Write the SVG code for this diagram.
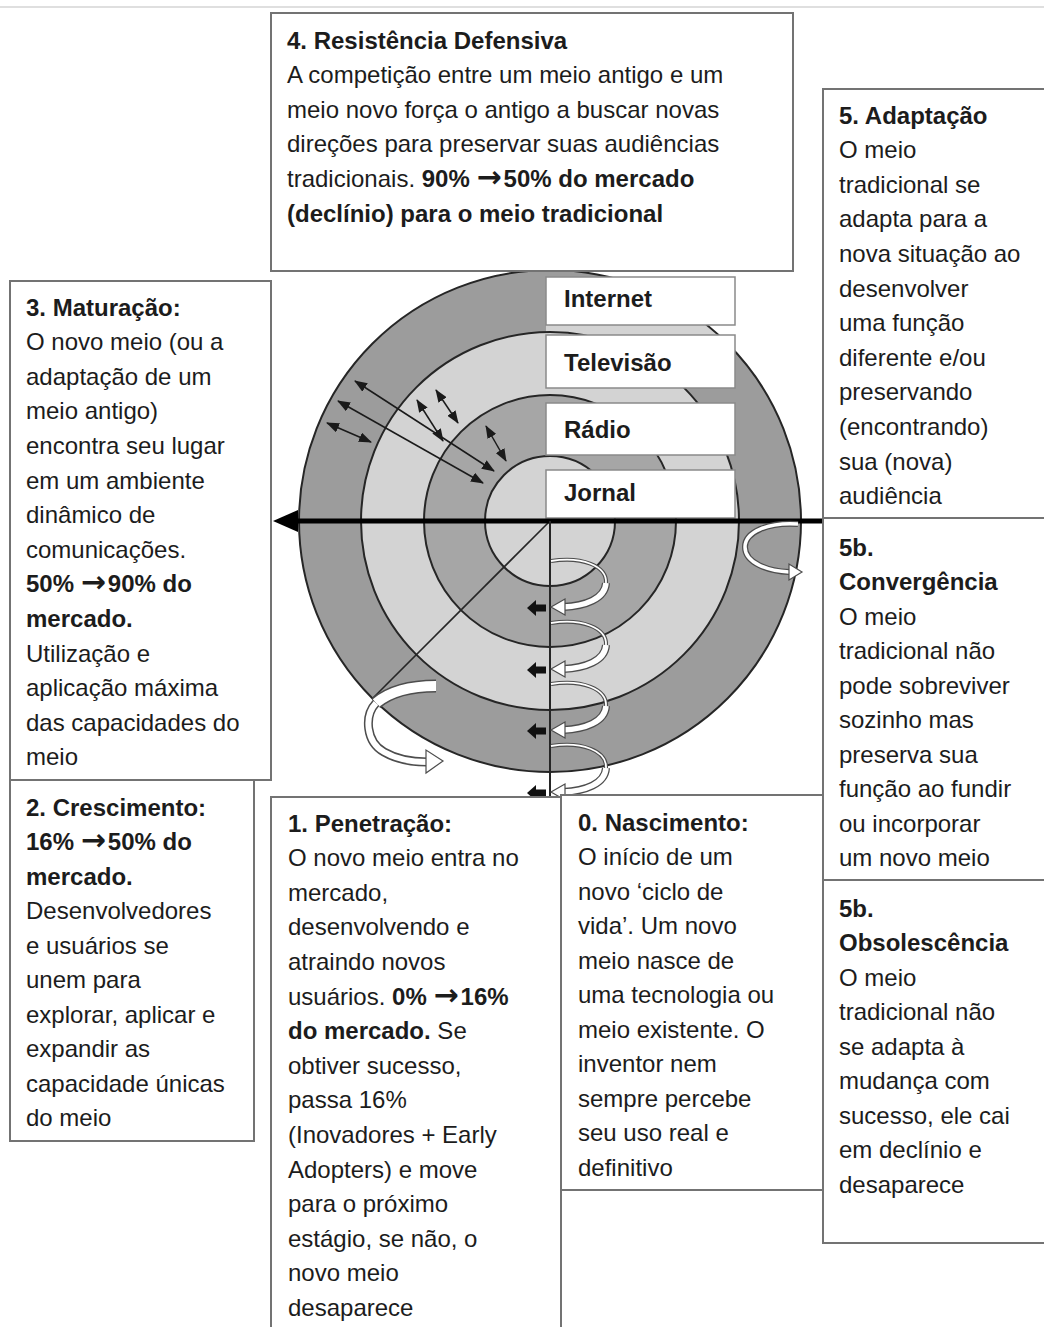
<svg xmlns="http://www.w3.org/2000/svg" width="1044" height="1327" viewBox="0 0 1044 1327">
<style>
  .box{fill:#fff;stroke:#737373;stroke-width:2}
  .tag{fill:#fff;stroke:#8a8a8a;stroke-width:1.5}
  text{font-family:"Liberation Sans",Arial,sans-serif;font-size:24px;fill:#1c1c1c}
  .b{font-weight:700}
  .arr{font-family:"DejaVu Sans",sans-serif;font-weight:700;font-size:30px}
  .ring{stroke:#262626;stroke-width:2}
  .dk{fill:#9c9c9c}
  .md{fill:#a6a6a6}
  .lt{fill:#d3d3d3}
  .dbl{fill:none;stroke:#1a1a1a;stroke-width:1.5;marker-start:url(#ah);marker-end:url(#ah)}
  .rib-o{fill:none;stroke:#4d4d4d}
  .rib-i{fill:none;stroke:#fff}
  .head{fill:#fff;stroke:#4d4d4d;stroke-width:1.2}
</style>
<defs>
  <marker id="ah" viewBox="0 0 13 10" refX="12" refY="5" markerWidth="13" markerHeight="10" markerUnits="userSpaceOnUse" orient="auto-start-reverse">
    <path d="M0,0 L13,5 L0,10 Z" fill="#1a1a1a"/>
  </marker>
  <!-- one turn of the coil running down the vertical axis -->
  <g id="coil">
    <path class="rib-o" stroke-width="4" d="M551,561 C582,556 607,566 606,583"/>
    <path class="rib-i" stroke-width="1.8" d="M551,561 C582,556 607,566 606,583"/>
    <path class="rib-o" stroke-width="8" d="M606,583 C605,599 585,606 563,607"/>
    <path class="rib-i" stroke-width="5.5" d="M606,583 C605,599 585,606 563,607"/>
    <polygon class="head" points="551,607 565,599 565,615"/>
    <polygon points="527,608 536,600 536,604.5 546,604.5 546,611.5 536,611.5 536,616" fill="#111"/>
  </g>
</defs>

<rect width="1044" height="1327" fill="#fff"/>
<line x1="0" y1="7" x2="1044" y2="7" stroke="#d4d4d4" stroke-width="1.5"/>

<!-- concentric media rings -->
<g id="rings">
  <circle class="ring dk" cx="550" cy="521" r="251"/>
  <polygon class="lt" points="546,325 705,325 717,335 546,335"/>
  <circle class="ring lt" cx="550" cy="521" r="189"/>
  <circle class="ring md" cx="550" cy="521" r="126"/>
  <circle class="ring lt" cx="550" cy="521" r="65"/>
  <line x1="550" y1="521" x2="373" y2="698" stroke="#262626" stroke-width="1.6"/>
</g>

<!-- ring labels -->
<g id="label-internet">
  <rect class="tag" x="546" y="277" width="189" height="48"/>
  <text class="b" x="564" y="307">Internet</text>
</g>
<g id="label-televisao">
  <rect class="tag" x="546" y="335" width="189" height="53"/>
  <text class="b" x="564" y="371">Televisão</text>
</g>
<g id="label-radio">
  <rect class="tag" x="546" y="403" width="189" height="52"/>
  <text class="b" x="564" y="438">Rádio</text>
</g>
<g id="label-jornal">
  <rect class="tag" x="546" y="470" width="189" height="48"/>
  <text class="b" x="564" y="501">Jornal</text>
</g>

<!-- connectors -->
<g id="connectors">
  <line class="dbl" x1="327" y1="423" x2="371" y2="442"/>
  <line class="dbl" x1="355" y1="381" x2="494" y2="471"/>
  <line class="dbl" x1="338" y1="401" x2="483" y2="483"/>
  <line class="dbl" x1="436" y1="390" x2="458" y2="423"/>
  <line class="dbl" x1="417" y1="400" x2="443" y2="441"/>
  <line class="dbl" x1="486" y1="426" x2="506" y2="461"/>

  <!-- time axis -->
  <line x1="295" y1="521" x2="822" y2="521" stroke="#000" stroke-width="5"/>
  <polygon points="273,521 298,510 298,532" fill="#000"/>
  <line x1="550" y1="521" x2="550" y2="797" stroke="#262626" stroke-width="2"/>

  <!-- coil down the axis -->
  <use href="#coil"/>
  <use href="#coil" y="62"/>
  <use href="#coil" y="123"/>
  <use href="#coil" y="185"/>

  <!-- loop at the outer ring, right -->
  <path class="rib-o" stroke-width="6" d="M798,524 C768,522 745,532 745,547 C745,563 768,571 789,572"/>
  <path class="rib-i" stroke-width="3.5" d="M798,524 C768,522 745,532 745,547 C745,563 768,571 789,572"/>
  <polygon class="head" points="802,572 789,564 789,580"/>

  <!-- loop leaving the circle, lower left -->
  <path class="rib-o" stroke-width="13" d="M436,686 C408,686 388,693 376,703"/>
  <path class="rib-i" stroke-width="10" d="M436,686 C408,686 388,693 376,703"/>
  <path class="rib-o" stroke-width="9" d="M376,703 C364,716 366,742 384,752 C398,760 412,762 427,762"/>
  <path class="rib-i" stroke-width="6" d="M376,703 C364,716 366,742 384,752 C398,760 412,762 427,762"/>
  <polygon class="head" points="443,761 426,750 426,773"/>
</g>

<!-- stage boxes -->
<g id="stage-4">
  <rect class="box" x="271" y="13" width="522" height="258"/>
  <text y="48.5">
    <tspan class="b" x="287">4. Resistência Defensiva</tspan>
    <tspan x="287" dy="34.6">A competição entre um meio antigo e um</tspan>
    <tspan x="287" dy="34.6">meio novo força o antigo a buscar novas</tspan>
    <tspan x="287" dy="34.6">direções para preservar suas audiências</tspan>
    <tspan x="287" dy="34.6">tradicionais. <tspan class="b">90% <tspan class="arr">→</tspan><tspan dx="2">50% do mercado</tspan></tspan></tspan>
    <tspan class="b" x="287" dy="34.6">(declínio) para o meio tradicional</tspan>
  </text>
</g>

<g id="stage-5">
  <rect class="box" x="823" y="89" width="230" height="429"/>
  <text y="123.5">
    <tspan class="b" x="839">5. Adaptação</tspan>
    <tspan x="839" dy="34.6">O meio</tspan>
    <tspan x="839" dy="34.6">tradicional se</tspan>
    <tspan x="839" dy="34.6">adapta para a</tspan>
    <tspan x="839" dy="34.6">nova situação ao</tspan>
    <tspan x="839" dy="34.6">desenvolver</tspan>
    <tspan x="839" dy="34.6">uma função</tspan>
    <tspan x="839" dy="34.6">diferente e/ou</tspan>
    <tspan x="839" dy="34.6">preservando</tspan>
    <tspan x="839" dy="34.6">(encontrando)</tspan>
    <tspan x="839" dy="34.6">sua (nova)</tspan>
    <tspan x="839" dy="34.6">audiência</tspan>
  </text>
</g>

<g id="stage-5b-convergencia">
  <rect class="box" x="823" y="518" width="230" height="362"/>
  <text y="555.5">
    <tspan class="b" x="839">5b.</tspan>
    <tspan class="b" x="839" dy="34.5">Convergência</tspan>
    <tspan x="839" dy="34.5">O meio</tspan>
    <tspan x="839" dy="34.5">tradicional não</tspan>
    <tspan x="839" dy="34.5">pode sobreviver</tspan>
    <tspan x="839" dy="34.5">sozinho mas</tspan>
    <tspan x="839" dy="34.5">preserva sua</tspan>
    <tspan x="839" dy="34.5">função ao fundir</tspan>
    <tspan x="839" dy="34.5">ou incorporar</tspan>
    <tspan x="839" dy="34.5">um novo meio</tspan>
  </text>
</g>

<g id="stage-5b-obsolescencia">
  <rect class="box" x="823" y="880" width="230" height="363"/>
  <text y="916.5">
    <tspan class="b" x="839">5b.</tspan>
    <tspan class="b" x="839" dy="34.5">Obsolescência</tspan>
    <tspan x="839" dy="34.5">O meio</tspan>
    <tspan x="839" dy="34.5">tradicional não</tspan>
    <tspan x="839" dy="34.5">se adapta à</tspan>
    <tspan x="839" dy="34.5">mudança com</tspan>
    <tspan x="839" dy="34.5">sucesso, ele cai</tspan>
    <tspan x="839" dy="34.5">em declínio e</tspan>
    <tspan x="839" dy="34.5">desaparece</tspan>
  </text>
</g>

<g id="stage-3">
  <rect class="box" x="10" y="281" width="261" height="499"/>
  <text y="315.5">
    <tspan class="b" x="26">3. Maturação:</tspan>
    <tspan x="26" dy="34.6">O novo meio (ou a</tspan>
    <tspan x="26" dy="34.6">adaptação de um</tspan>
    <tspan x="26" dy="34.6">meio antigo)</tspan>
    <tspan x="26" dy="34.6">encontra seu lugar</tspan>
    <tspan x="26" dy="34.6">em um ambiente</tspan>
    <tspan x="26" dy="34.6">dinâmico de</tspan>
    <tspan x="26" dy="34.6">comunicações.</tspan>
    <tspan class="b" x="26" dy="34.6">50% <tspan class="arr">→</tspan><tspan dx="2">90% do</tspan></tspan>
    <tspan class="b" x="26" dy="34.6">mercado.</tspan>
    <tspan x="26" dy="34.6">Utilização e</tspan>
    <tspan x="26" dy="34.6">aplicação máxima</tspan>
    <tspan x="26" dy="34.6">das capacidades do</tspan>
    <tspan x="26" dy="34.6">meio</tspan>
  </text>
</g>

<g id="stage-2">
  <rect class="box" x="10" y="780" width="244" height="361"/>
  <text y="815.5">
    <tspan class="b" x="26">2. Crescimento:</tspan>
    <tspan class="b" x="26" dy="34.5">16% <tspan class="arr">→</tspan><tspan dx="2">50% do</tspan></tspan>
    <tspan class="b" x="26" dy="34.5">mercado.</tspan>
    <tspan x="26" dy="34.5">Desenvolvedores</tspan>
    <tspan x="26" dy="34.5">e usuários se</tspan>
    <tspan x="26" dy="34.5">unem para</tspan>
    <tspan x="26" dy="34.5">explorar, aplicar e</tspan>
    <tspan x="26" dy="34.5">expandir as</tspan>
    <tspan x="26" dy="34.5">capacidade únicas</tspan>
    <tspan x="26" dy="34.5">do meio</tspan>
  </text>
</g>

<g id="stage-1">
  <rect class="box" x="271" y="797" width="290" height="540"/>
  <text y="831.5">
    <tspan class="b" x="288">1. Penetração:</tspan>
    <tspan x="288" dy="34.6">O novo meio entra no</tspan>
    <tspan x="288" dy="34.6">mercado,</tspan>
    <tspan x="288" dy="34.6">desenvolvendo e</tspan>
    <tspan x="288" dy="34.6">atraindo novos</tspan>
    <tspan x="288" dy="34.6">usuários. <tspan class="b">0% <tspan class="arr">→</tspan><tspan dx="2">16%</tspan></tspan></tspan>
    <tspan x="288" dy="34.6"><tspan class="b">do mercado.</tspan> Se</tspan>
    <tspan x="288" dy="34.6">obtiver sucesso,</tspan>
    <tspan x="288" dy="34.6">passa 16%</tspan>
    <tspan x="288" dy="34.6">(Inovadores + Early</tspan>
    <tspan x="288" dy="34.6">Adopters) e move</tspan>
    <tspan x="288" dy="34.6">para o próximo</tspan>
    <tspan x="288" dy="34.6">estágio, se não, o</tspan>
    <tspan x="288" dy="34.6">novo meio</tspan>
    <tspan x="288" dy="34.6">desaparece</tspan>
  </text>
</g>

<g id="stage-0">
  <rect class="box" x="561" y="795" width="262" height="395"/>
  <text y="830.5">
    <tspan class="b" x="578">0. Nascimento:</tspan>
    <tspan x="578" dy="34.5">O início de um</tspan>
    <tspan x="578" dy="34.5">novo ‘ciclo de</tspan>
    <tspan x="578" dy="34.5">vida’. Um novo</tspan>
    <tspan x="578" dy="34.5">meio nasce de</tspan>
    <tspan x="578" dy="34.5">uma tecnologia ou</tspan>
    <tspan x="578" dy="34.5">meio existente. O</tspan>
    <tspan x="578" dy="34.5">inventor nem</tspan>
    <tspan x="578" dy="34.5">sempre percebe</tspan>
    <tspan x="578" dy="34.5">seu uso real e</tspan>
    <tspan x="578" dy="34.5">definitivo</tspan>
  </text>
</g>
</svg>
